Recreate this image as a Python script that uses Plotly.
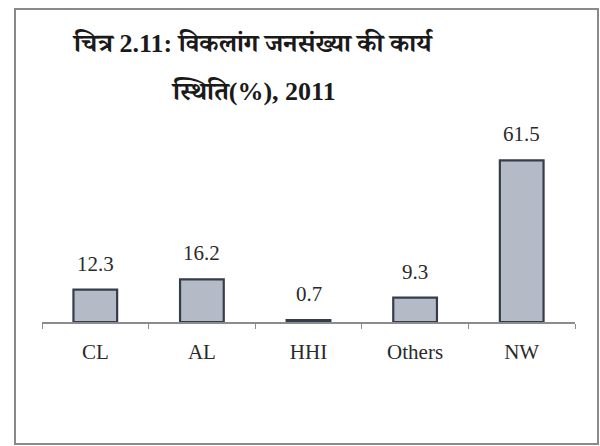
import plotly.graph_objects as go

# Work status of the disabled population, 2011 (%)
categories = ["CL", "AL", "HHI", "Others", "NW"]
values = [12.3, 16.2, 0.7, 9.3, 61.5]
title_lines = ["चित्र 2.11: विकलांग जनसंख्या की कार्य", "स्थिति(%), 2011"]

W, H = 600, 446
ML, MR, MT, MB = 42, 25, 138, 124
PW, PH = W - ML - MR, H - MT - MB

def px_x(x):
    return (x - ML) / PW

def px_y(y):
    return (H - MB - y) / PH

serif = "Liberation Serif, Times New Roman, serif"
title_font = dict(family="Liberation Serif, Noto Serif Devanagari, serif", size=26, color="#1a1a1a")

fig = go.Figure(
    go.Bar(
        x=categories,
        y=values,
        marker=dict(color="#b5bbc6", line=dict(color="#363d4a", width=2.2)),
        hoverinfo="skip",
    )
)

annotations = [
    dict(
        x=c, y=v, xref="x", yref="y", text=f"{v}", showarrow=False,
        yanchor="bottom", yshift=12,
        font=dict(family=serif, size=21, color="#2a2a2a"),
    )
    for c, v in zip(categories, values)
]

for text, ypx in zip(title_lines, [43, 91]):
    annotations.append(
        dict(
            x=px_x(253), y=px_y(ypx), xref="paper", yref="paper",
            text=f"<b>{text}</b>", showarrow=False,
            xanchor="center", yanchor="middle",
            font=title_font,
        )
    )

fig.update_layout(
    width=W, height=H,
    margin=dict(l=ML, r=MR, t=MT, b=MB, pad=0),
    paper_bgcolor="white", plot_bgcolor="white",
    showlegend=False,
    bargap=0.59,
    annotations=annotations,
    shapes=[
        dict(
            type="rect", xref="paper", yref="paper",
            x0=px_x(15), x1=px_x(598), y0=px_y(444), y1=px_y(9),
            line=dict(color="#8a8a8a", width=2), layer="below",
        )
    ],
    xaxis=dict(
        type="category",
        showline=True, linecolor="#8c8c8c", linewidth=1.5,
        ticks="outside", tickson="boundaries", ticklen=5, tickcolor="#8c8c8c",
        ticklabelstandoff=10,
        showgrid=False, zeroline=False,
        tickfont=dict(family=serif, size=21, color="#2a2a2a"),
    ),
    yaxis=dict(
        range=[0, 70], visible=False, showgrid=False, zeroline=False,
    ),
)

fig.write_html("out.html")
